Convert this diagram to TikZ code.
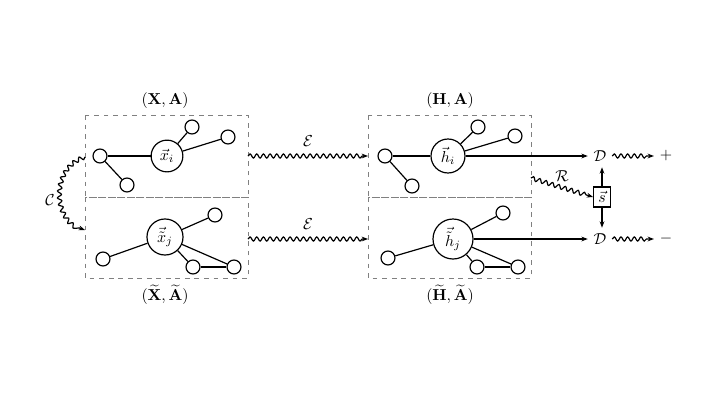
\documentclass[tikz,border=0pt]{standalone}
\usepackage{tikz}
\usetikzlibrary{arrows.meta, decorations.pathmorphing}
\tikzset{
    myarrow/.style={-{Stealth[length=4pt]}},
    squig/.style={decorate, decoration={snake, amplitude=1.3pt, segment length=4.2pt, post length=3pt}, -{Stealth[length=4pt]}},
    hub/.style={draw, circle, inner sep=0.5pt, minimum size=20pt},
    leaf/.style={draw, circle, inner sep=0pt, minimum size=8.8pt},
    frame/.style={draw=gray, dashed, semithick},
    sbox/.style={draw, rectangle, inner sep=1pt, minimum width=10.5pt, minimum height=12.5pt}
}

\begin{document}
\begin{tikzpicture}[x=0.63pt, y=-0.63pt, line width=0.75pt]
    \useasboundingbox (0,0) rectangle (720,405);
    % frames
    \draw [frame] (85,115) rectangle (248,197);
    \draw [frame] (85,197) rectangle (248,278);
    \draw [frame] (368,115) rectangle (531,197);
    \draw [frame] (368,197) rectangle (531,278);
    \node (lxa) at (165,101) {$(\mathbf{X},\mathbf{A})$};
    \node (lxt) at (165,295) {$(\widetilde{\mathbf{X}},\widetilde{\mathbf{A}})$};
    \node (lha) at (450,101) {$(\mathbf{H},\mathbf{A})$};
    \node (lht) at (450,295) {$(\widetilde{\mathbf{H}},\widetilde{\mathbf{A}})$};
    % input graph
    \node (xi) [hub] at (167,156) {$\vec{x}_i$};
    \node (xa) [leaf] at (100,156) {};
    \node (xb) [leaf] at (127,185) {};
    \node (xc) [leaf] at (192,127) {};
    \node (xd) [leaf] at (228,137) {};
    \draw (xi) -- (xa);
    \draw (xa) -- (xb);
    \draw (xi) -- (xc);
    \draw (xi) -- (xd);
    % corrupted graph
    \node (xj) [hub, minimum size=22.7pt] at (165,237) {$\vec{\tilde{x}}_j$};
    \node (ya) [leaf] at (215,215) {};
    \node (yb) [leaf] at (103,259) {};
    \node (yc) [leaf] at (193,267) {};
    \node (yd) [leaf] at (234,267) {};
    \draw (xj) -- (ya);
    \draw (xj) -- (yb);
    \draw (xj) -- (yc);
    \draw (xj) -- (yd);
    \draw (yc) -- (yd);
    % encoded graph
    \node (hi) [hub, minimum size=21.4pt] at (448,156) {$\vec{h}_i$};
    \node (ha) [leaf] at (385,156) {};
    \node (hb) [leaf] at (412,186) {};
    \node (hc) [leaf] at (478,127) {};
    \node (hd) [leaf] at (515,136) {};
    \draw (hi) -- (ha);
    \draw (ha) -- (hb);
    \draw (hi) -- (hc);
    \draw (hi) -- (hd);
    % encoded corrupted graph
    \node (hj) [hub, minimum size=25.2pt] at (453,239) {$\vec{\tilde{h}}_j$};
    \node (ka) [leaf] at (503,213) {};
    \node (kb) [leaf] at (388,258) {};
    \node (kc) [leaf] at (477,267) {};
    \node (kd) [leaf] at (518,267) {};
    \draw (hj) -- (ka);
    \draw (hj) -- (kb);
    \draw (hj) -- (kc);
    \draw (hj) -- (kd);
    \draw (kc) -- (kd);
    % encoder
    \coordinate (e1s) at (248,156);
    \coordinate (e1t) at (368,156);
    \coordinate (e2s) at (248,239);
    \coordinate (e2t) at (368,239);
    \draw [squig] (e1s) -- node [above=2pt] {$\mathcal{E}$} (e1t);
    \draw [squig] (e2s) -- node [above=2pt] {$\mathcal{E}$} (e2t);
    % corruption
    \coordinate (cs) at (85,157);
    \coordinate (ct) at (85,230);
    \draw [squig] (cs) .. controls (52,168) and (54,222) .. (ct);
    \node (lc) at (50,200) {$\mathcal{C}$};
    % discriminator
    \node (d1) at (600,156) {$\mathcal{D}$};
    \node (d2) at (600,239) {$\mathcal{D}$};
    \node (pos) at (666,156) {$+$};
    \node (neg) at (666,239) {$-$};
    \node (s) [sbox] at (602,197) {$\vec{s}$};
    \draw [myarrow] (hi) -- (d1);
    \draw [myarrow] (hj) -- (d2);
    \draw [squig] (d1) -- (pos);
    \draw [squig] (d2) -- (neg);
    \draw [myarrow] (s) -- (s |- d1.south);
    \draw [myarrow] (s) -- (s |- d2.north);
    % readout
    \coordinate (rs) at (531,178);
    \draw [squig] (rs) -- (s.west);
    \node (lr) at (562,176) {$\mathcal{R}$};
\end{tikzpicture}
\end{document}
